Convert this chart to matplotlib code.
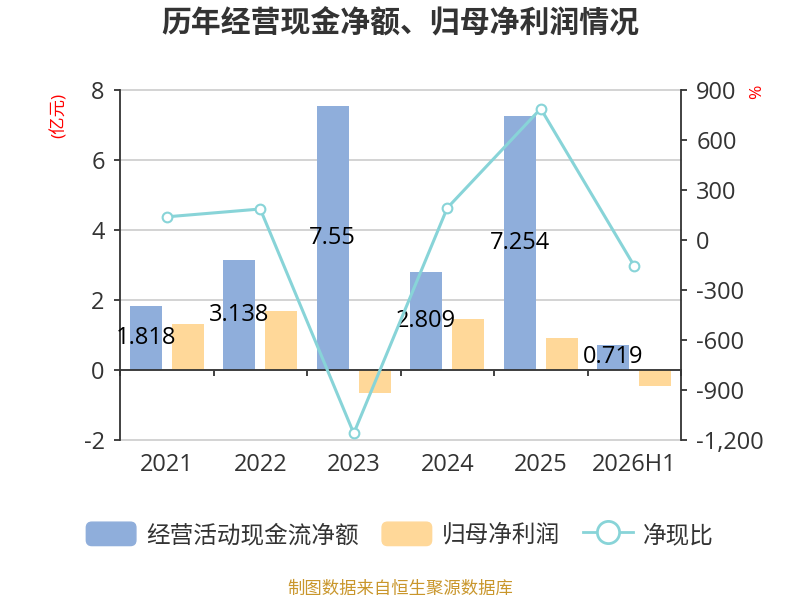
import matplotlib
matplotlib.use("Agg")
import matplotlib.pyplot as plt
import numpy as np
from matplotlib.patches import Patch, FancyBboxPatch
from matplotlib.lines import Line2D
from matplotlib.legend_handler import HandlerPatch
from matplotlib.transforms import blended_transform_factory
from matplotlib.ticker import FuncFormatter

plt.rcParams['font.family'] = ['Open Sans', 'Noto Sans CJK SC', 'DejaVu Sans']
plt.rcParams['axes.unicode_minus'] = False

categories = ['2021', '2022', '2023', '2024', '2025', '2026H1']
cash_flow = [1.818, 3.138, 7.55, 2.809, 7.254, 0.719]
net_profit = [1.31, 1.69, -0.65, 1.46, 0.92, -0.46]
ratio = [139, 186, -1160, 192, 788, -156]
left_ticks = [-2, 0, 2, 4, 6, 8]
right_ticks = [-1200, -900, -600, -300, 0, 300, 600, 900]

BLUE = '#8FAEDB'
ORANGE = '#FFD899'
TEAL = '#88D4D8'
AXC = '#333333'

fig = plt.figure(figsize=(8, 6), dpi=100)
ax = fig.add_axes([120/800, 1-440/600, (681-120)/800, 350/600])
ax2 = ax.twinx()

x = np.arange(len(categories))
off = 0.225
w = 0.343
ax.bar(x - off, cash_flow, w, color=BLUE, zorder=2)
ax.bar(x + off, net_profit, w, color=ORANGE, zorder=2)

ax.set_xlim(-0.5, len(categories) - 0.5)
ax.set_ylim(-2, 8)
ax.set_yticks(left_ticks)
ax.yaxis.grid(True, color='#cccccc', linewidth=1.2, zorder=0)
ax.set_axisbelow(True)
for gl in ax.get_ygridlines():
    gl.set_clip_on(False)

for s in ['top', 'right']:
    ax.spines[s].set_visible(False)
ax.spines['left'].set_color(AXC)
ax.spines['left'].set_linewidth(1.3)
ax.spines['bottom'].set_position(('data', 0))
ax.spines['bottom'].set_color(AXC)
ax.spines['bottom'].set_linewidth(1.3)
ax.set_xticks(np.arange(-0.5, len(categories), 1.0))
ax.tick_params(axis='x', length=4, width=1.3, color=AXC, labelbottom=False, direction='out')
ax.tick_params(axis='y', length=4, width=1.3, color=AXC, labelsize=17, labelcolor=AXC, pad=7)

trans = blended_transform_factory(ax.transData, ax.transAxes)
for i, c in enumerate(categories):
    ax.text(i, -25/350, c, transform=trans, ha='center', va='center', fontsize=17, color=AXC)

for i, v in enumerate(cash_flow):
    ax.text(i - off, v/2, f'{v:g}', ha='center', va='center', fontsize=17, color='black', zorder=6)

ax2.plot(x, ratio, color=TEAL, linewidth=2.2, marker='o', markersize=7,
         markerfacecolor='white', markeredgecolor=TEAL, markeredgewidth=1.5, zorder=5)
ax2.set_ylim(-1200, 900)
ax2.set_yticks(right_ticks)
ax2.yaxis.set_major_formatter(FuncFormatter(lambda v, p: f'{int(v):,}'))
for s in ['top', 'left', 'bottom']:
    ax2.spines[s].set_visible(False)
ax2.spines['right'].set_color(AXC)
ax2.spines['right'].set_linewidth(1.3)
ax2.tick_params(axis='y', length=4, width=1.3, color=AXC, labelsize=17, labelcolor=AXC, pad=7)

fig.text(59/800, 1-115/600, '(亿元)', rotation=90, color='red', fontsize=12.5, ha='center', va='center')
fig.text(757/800, 1-92/600, '%', rotation=90, color='red', fontsize=12.5, ha='center', va='center')

fig.text(0.5, 1-24/600, '历年经营现金净额、归母净利润情况', ha='center', va='center',
         fontsize=21.5, fontweight='bold', color='#333333')

def rounded(legend, orig_handle, xdescent, ydescent, width, height, fontsize):
    return FancyBboxPatch((-xdescent, -ydescent), width, height,
                          boxstyle='round,pad=0,rounding_size=4')

h1 = Patch(color=BLUE, label='经营活动现金流净额')
h2 = Patch(color=ORANGE, label='归母净利润')
h3 = Line2D([], [], color=TEAL, linewidth=2, marker='o', markersize=16,
            markerfacecolor='white', markeredgecolor=TEAL, markeredgewidth=2, label='净现比')
leg = fig.legend(handles=[h1, h2, h3], loc='center', bbox_to_anchor=(0.5, 1-535/600), ncol=3,
                 frameon=False, fontsize=17, handlelength=2.1, handleheight=1.15,
                 handletextpad=0.42, columnspacing=1.0,
                 handler_map={Patch: HandlerPatch(patch_func=rounded)})
for t in leg.get_texts():
    t.set_color(AXC)

fig.text(0.5, 1-590/600, '制图数据来自恒生聚源数据库', ha='center', va='center',
         fontsize=12.5, color='#C9962B')

fig.savefig('out.png', dpi=100)
